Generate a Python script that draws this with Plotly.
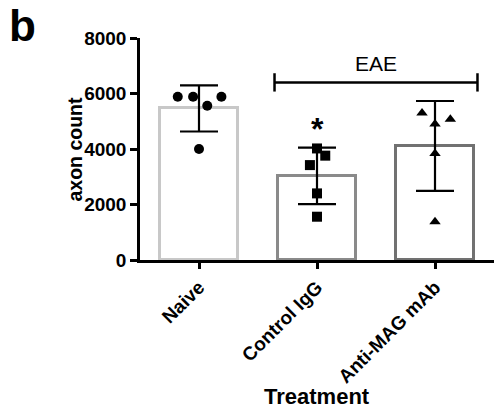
import plotly.graph_objects as go

categories = ["Naive", "Control IgG", "Anti-MAG mAb"]
means = [5460, 3030, 4110]
sds = [830, 1020, 1620]
points = [
    [5880, 5880, 5880, 5560, 4000],
    [4020, 3760, 3420, 2400, 1560],
    [5300, 4900, 5070, 3840, 1380],
]
jitter = [
    [-0.18, -0.05, 0.19, 0.07, 0.0],
    [0.0, 0.07, -0.06, 0.0, 0.0],
    [-0.11, 0.0, 0.13, 0.0, 0.0],
]
symbols = ["circle", "square", "triangle-up"]
bar_colors = ["#c8c8c8", "#8a8a8a", "#717171"]
yticks = [0, 2000, 4000, 6000, 8000]
bracket_y = 6400

FONT = "Liberation Sans, Arial, sans-serif"

fig = go.Figure()
for i, c in enumerate(categories):
    fig.add_trace(go.Bar(
        x=[i], y=[means[i]], width=0.66,
        marker=dict(color="white", line=dict(color=bar_colors[i], width=3)),
        showlegend=False, hoverinfo="skip",
    ))
for i, c in enumerate(categories):
    fig.add_trace(go.Scatter(
        x=[i + j for j in jitter[i]], y=points[i], mode="markers",
        marker=dict(symbol=symbols[i], color="black", size=10),
        showlegend=False,
    ))
for i, c in enumerate(categories):
    fig.add_trace(go.Scatter(
        x=[i], y=[means[i]], mode="markers",
        marker=dict(size=1, color="rgba(0,0,0,0)"),
        error_y=dict(type="data", array=[sds[i]], color="black", thickness=2.2, width=19),
        showlegend=False,
    ))

# EAE bracket
fig.add_shape(type="line", x0=0.64, x1=2.36, y0=bracket_y, y1=bracket_y,
              line=dict(color="black", width=2.5))
for xe in [0.64, 2.36]:
    fig.add_shape(type="line", x0=xe, x1=xe, y0=bracket_y - 330, y1=bracket_y + 330,
                  line=dict(color="black", width=2.5))
fig.add_annotation(x=1.5, y=bracket_y, yshift=19, text="EAE", showarrow=False,
                   font=dict(family=FONT, size=21, color="black"))
fig.add_annotation(x=1, y=means[1] + sds[1], yshift=19, text="<b>*</b>", showarrow=False,
                   font=dict(family=FONT, size=32, color="black"))
fig.add_annotation(xref="paper", yref="paper", x=-0.332, y=1.055, text="<b>b</b>",
                   showarrow=False, xanchor="center", yanchor="middle",
                   font=dict(family=FONT, size=44, color="black"))
# axis titles
fig.add_annotation(xref="paper", yref="paper", x=-0.185, y=0.5, text="<b>axon count</b>",
                   showarrow=False, textangle=-90, xanchor="center", yanchor="middle",
                   font=dict(family=FONT, size=19.5, color="black"))
fig.add_annotation(xref="x", yref="paper", x=1, y=-0.615, text="<b>Treatment</b>",
                   showarrow=False, xanchor="center", yanchor="middle",
                   font=dict(family=FONT, size=22, color="black"))

fig.update_layout(
    width=495, height=410,
    margin=dict(l=140, r=1, t=38, b=150),
    plot_bgcolor="white", paper_bgcolor="white",
    font=dict(family=FONT, color="black"),
    bargap=0,
)
fig.update_xaxes(
    range=[-0.5, 2.5], tickvals=[0, 1, 2],
    ticktext=["<b>%s</b>" % c for c in categories],
    tickangle=-45, tickfont=dict(size=19, family=FONT),
    showline=True, linecolor="black", linewidth=2.5,
    ticks="outside", ticklen=6, tickwidth=2.5, tickcolor="black",
    showgrid=False, zeroline=False, automargin=False,
)
fig.update_yaxes(
    range=[0, 8000], tickvals=yticks,
    ticktext=["<b>%d</b>" % v for v in yticks],
    tickfont=dict(size=19, family=FONT),
    showline=True, linecolor="black", linewidth=2.5,
    ticks="outside", ticklen=7, tickwidth=2.5, tickcolor="black",
    showgrid=False, zeroline=False, automargin=False,
)

fig.write_html("out.html", config={"displayModeBar": False},
               post_script="document.body.style.margin='0';")
